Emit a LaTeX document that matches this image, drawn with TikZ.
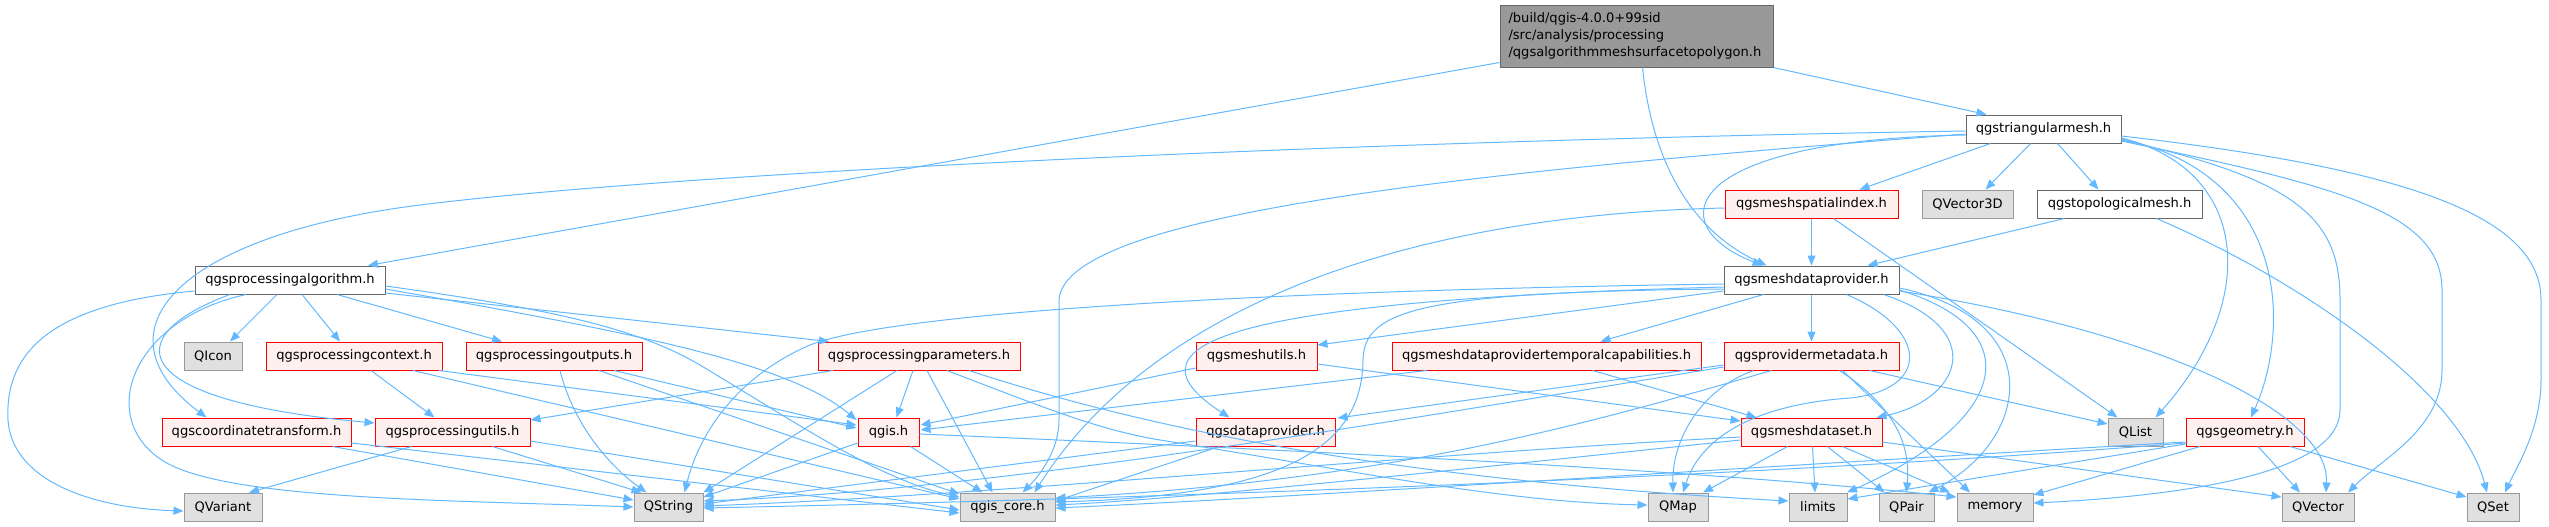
\documentclass[tikz,border=0pt]{standalone}
\usepackage{fontspec}
\setmainfont{DejaVu Sans}
\usetikzlibrary{arrows.meta}
\definecolor{edgec}{HTML}{63B8FF}
\definecolor{nodeg}{HTML}{666666}
\definecolor{mainf}{HTML}{999999}
\definecolor{grayd}{HTML}{999999}
\definecolor{grayf}{HTML}{E0E0E0}
\definecolor{redfill}{HTML}{FFF0F0}
\definecolor{redd}{HTML}{FF0000}
\begin{document}
\begin{tikzpicture}[x=0.75pt,y=-0.75pt,
  font=\fontsize{9.8}{12.75}\selectfont,
  box/.style={draw, line width=0.75pt, inner sep=0pt, minimum height=21pt, minimum width=#1*0.75pt},
  wbox/.style={box=#1, draw=nodeg, fill=white},
  rbox/.style={box=#1, draw=redd, fill=redfill},
  gbox/.style={box=#1, draw=grayd, fill=grayf},
  e/.style={draw=edgec, line width=0.75pt, -{Triangle[length=7.5pt,width=6pt]}}]
\useasboundingbox (0,0) rectangle (2549,526);
% nodes
\node[draw=nodeg, fill=mainf, line width=0.75pt, inner sep=0pt, minimum width=204.75pt, minimum height=46.5pt, text width=192pt, align=left] (M) at (1636.5,36) {/build/qgis-4.0.0+99sid\\/src/analysis/processing\\/qgsalgorithmmeshsurfacetopolygon.h};
\node[wbox=190] (PA) at (290,280) {qgsprocessingalgorithm.h};
\node[wbox=155] (TM) at (2043.5,129) {qgstriangularmesh.h};
\node[rbox=173] (MSI) at (1811.5,204) {qgsmeshspatialindex.h};
\node[gbox=91] (QV3) at (1967.5,204) {QVector3D};
\node[wbox=165] (TOP) at (2119.5,204) {qgstopologicalmesh.h};
\node[wbox=175] (MDP) at (1811.5,280) {qgsmeshdataprovider.h};
\node[gbox=58] (QI) at (213,356) {QIcon};
\node[rbox=176] (PC) at (354,356) {qgsprocessingcontext.h};
\node[rbox=176] (PO) at (554,356) {qgsprocessingoutputs.h};
\node[rbox=202] (PP) at (919,356) {qgsprocessingparameters.h};
\node[rbox=121] (MU) at (1256.5,356) {qgsmeshutils.h};
\node[rbox=309] (MTC) at (1546.5,356) {qgsmeshdataprovidertemporalcapabilities.h};
\node[rbox=175] (PM) at (1811.5,356) {qgsprovidermetadata.h};
\node[rbox=189] (CT) at (256.5,432) {qgscoordinatetransform.h};
\node[rbox=155] (PU) at (452.5,432) {qgsprocessingutils.h};
\node[rbox=61] (QG) at (888.5,432) {qgis.h};
\node[rbox=139] (DP) at (1265.5,432) {qgsdataprovider.h};
\node[rbox=141] (MD) at (1811.5,432) {qgsmeshdataset.h};
\node[gbox=55] (QL) at (2135.5,432) {QList};
\node[rbox=118] (GE) at (2245,432) {qgsgeometry.h};
\node[gbox=78] (QVa) at (223,507) {QVariant};
\node[gbox=69] (QS) at (668.5,507) {QString};
\node[gbox=95] (QC) at (1007.5,507) {qgis\_core.h};
\node[gbox=60] (QM) at (1678,507) {QMap};
\node[gbox=58] (LI) at (1818,507) {limits};
\node[gbox=55] (QP) at (1906.5,507) {QPair};
\node[gbox=76] (ME) at (1995,507) {memory};
\node[gbox=72] (QVe) at (2318,507) {QVector};
\node[gbox=52] (QSe) at (2493,507) {QSet};
% main
\draw[e] ([shift={(0,-5)}]M.south west) -- ([shift={(78,0)}]PA.north);
\draw[e] ([shift={(6,0)}]M.south) .. controls (1652,160) and (1690,230) .. ([shift={(-45,0)}]MDP.north);
\draw[e] (M.south east) -- ([shift={(-57,0)}]TM.north);
% triangular mesh
\draw[e] ([shift={(0,2)}]TM.west) .. controls (1400,140) and (700,170) .. (420,205) .. controls (180,235) and (90,330) .. ([shift={(-50,0)}]CT.north);
\draw[e] ([shift={(0,5)}]TM.west) .. controls (1500,170) and (1065,210) .. (1059,300) -- (1059,420) .. controls (1059,450) and (1040,475) .. ([shift={(15,0)}]QC.north);
\draw[e] ([shift={(0,6)}]TM.west) .. controls (1680,140) and (1660,225) .. ([shift={(-49,0)}]MDP.north);
\draw[e] ([shift={(-53,0)}]TM.south) -- ([shift={(48,0)}]MSI.north);
\draw[e] ([shift={(-13,0)}]TM.south) -- ([shift={(18,0)}]QV3.north);
\draw[e] ([shift={(14,0)}]TM.south) -- ([shift={(-21,0)}]TOP.north);
\draw[e] ([shift={(0,9)}]TM.east) .. controls (2250,170) and (2260,300) .. ([shift={(20,0)}]QL.north);
\draw[e] ([shift={(0,10)}]TM.east) .. controls (2290,175) and (2290,330) .. ([shift={(6,0)}]GE.north);
\draw[e] ([shift={(0,11)}]TM.east) .. controls (2300,180) and (2340,220) .. (2340,300) -- (2340,410) .. controls (2340,470) and (2200,495) .. ([shift={(0,-4)}]ME.east);
\draw[e] ([shift={(0,12)}]TM.east) .. controls (2330,185) and (2442,210) .. (2442,290) -- (2442,370) .. controls (2442,430) and (2380,460) .. ([shift={(30,0)}]QVe.north);
\draw[e] ([shift={(0,7)}]TM.east) .. controls (2420,170) and (2541,220) .. (2541,300) -- (2541,380) .. controls (2541,430) and (2515,470) .. ([shift={(12,0)}]QSe.north);
% mesh spatial index
\draw[e] (MSI) -- (MDP);
\draw[e] ([shift={(0,4)}]MSI.west) .. controls (1400,215) and (1150,310) .. ([shift={(27,0)}]QC.north);
\draw[e] ([shift={(22,0)}]MSI.south) -- ([shift={(-18,0)}]QL.north);
% topological mesh
\draw[e] ([shift={(-55,0)}]TOP.south) -- ([shift={(56,0)}]MDP.north);
\draw[e] ([shift={(37,0)}]TOP.south) .. controls (2300,280) and (2460,390) .. ([shift={(-6,0)}]QSe.north);
% mesh data provider
\draw[e] (MDP) -- (PM);
\draw[e] ([shift={(-48,0)}]MDP.south) -- ([shift={(54,0)}]MTC.north);
\draw[e] ([shift={(0,11)}]MDP.west) -- ([shift={(0,-11)}]MU.east);
\draw[e] ([shift={(0,7)}]MDP.west) .. controls (1250,300) and (1110,340) .. ([shift={(-36,0)}]DP.north);
\draw[e] ([shift={(0,9)}]MDP.west) .. controls (1420,292) and (1364,310) .. (1363,360) .. controls (1362,440) and (1300,495) .. ([shift={(0,-5)}]QC.east);
\draw[e] ([shift={(0,4)}]MDP.west) .. controls (1300,290) and (900,310) .. (810,345) .. controls (740,375) and (700,430) .. ([shift={(16,0)}]QS.north);
\draw[e] ([shift={(72,0)}]MDP.south) .. controls (1990,330) and (1960,400) .. ([shift={(65,0)}]MD.north);
\draw[e] ([shift={(0,10)}]MDP.east) .. controls (2030,330) and (2010,420) .. ([shift={(29,0)}]LI.north);
\draw[e] ([shift={(0,8)}]MDP.east) .. controls (2050,320) and (2030,440) .. ([shift={(22,0)}]QP.north);
\draw[e] ([shift={(35,0)}]MDP.south) .. controls (1930,330) and (1930,390) .. (1850,398) .. controls (1750,405) and (1700,440) .. ([shift={(5,0)}]QM.north);
\draw[e] ([shift={(0,11)}]MDP.east) .. controls (2150,330) and (2330,410) .. ([shift={(8,0)}]QVe.north);
% provider metadata
\draw[e] ([shift={(0,9)}]PM.west) -- ([shift={(2,-14)}]DP.east);
\draw[e] ([shift={(-58,0)}]PM.south) .. controls (1700,390) and (1672,440) .. ([shift={(-5,0)}]QM.north);
\draw[e] ([shift={(-40,0)}]PM.south) .. controls (1600,420) and (1400,480) .. ([shift={(0,-9)}]QC.east);
\draw[e] ([shift={(0,11)}]PM.west) .. controls (1400,420) and (1000,490) .. ([shift={(0,-6)}]QS.east);
\draw[e] ([shift={(28,0)}]PM.south) .. controls (1900,410) and (1910,450) .. (QP.north);
\draw[e] ([shift={(31,0)}]PM.south) -- ([shift={(-25,0)}]ME.north);
\draw[e] ([shift={(58,0)}]PM.south) -- ([shift={(0,-8)}]QL.west);
% temporal capabilities
\draw[e] ([shift={(-120,0)}]MTC.south) -- ([shift={(1,-2)}]QG.east);
\draw[e] ([shift={(46,0)}]MTC.south) -- ([shift={(-55,0)}]MD.north);
% mesh utils
\draw[e] ([shift={(0,12)}]MU.west) -- ([shift={(1,-7)}]QG.east);
\draw[e] ([shift={(0,8)}]MU.east) -- ([shift={(0,-11)}]MD.west);
% data provider
\draw[e] ([shift={(-46,0)}]DP.south) -- ([shift={(0,-6)}]QC.east);
\draw[e] ([shift={(0,9)}]DP.west) -- ([shift={(0,-3)}]QS.east);
% mesh dataset
\draw[e] ([shift={(0,5)}]MD.west) .. controls (1400,455) and (1000,495) .. ([shift={(0,-1)}]QS.east);
\draw[e] ([shift={(0,8)}]MD.west) .. controls (1500,465) and (1200,498) .. ([shift={(0,-2)}]QC.east);
\draw[e] ([shift={(-24,0)}]MD.south) -- ([shift={(25,0)}]QM.north);
\draw[e] ([shift={(1,0)}]MD.south) -- ([shift={(-3,0)}]LI.north);
\draw[e] ([shift={(16,0)}]MD.south) -- ([shift={(-22,0)}]QP.north);
\draw[e] ([shift={(31,0)}]MD.south) -- ([shift={(-45,0)}]ME.north);
\draw[e] ([shift={(0,10)}]MD.east) -- ([shift={(0,-10)}]QVe.west);
% geometry
\draw[e] ([shift={(13,0)}]GE.south) -- ([shift={(-18,0)}]QVe.north);
\draw[e] ([shift={(45,0)}]GE.south) -- ([shift={(0,-10)}]QSe.west);
\draw[e] ([shift={(-45,0)}]GE.south) -- ([shift={(0,-12)}]ME.east);
\draw[e] ([shift={(0,10)}]GE.west) .. controls (1700,470) and (1300,497) .. ([shift={(0,1)}]QC.east);
\draw[e] ([shift={(0,11)}]GE.west) .. controls (1700,482) and (1000,502) .. ([shift={(0,1)}]QS.east);
\draw[e] ([shift={(0,12)}]GE.west) -- ([shift={(0,-8)}]LI.east);
% qgis.h
\draw[e] ([shift={(0,11)}]QG.west) -- ([shift={(0,-10)}]QS.east);
\draw[e] ([shift={(22,0)}]QG.south) -- ([shift={(-25,0)}]QC.north);
\draw[e] ([shift={(0,2)}]QG.east) .. controls (1300,450) and (1700,470) .. ([shift={(0,-10)}]ME.west);
% processing parameters
\draw[e] ([shift={(-86,0)}]PP.south) -- ([shift={(0,-12)}]PU.east);
\draw[e] ([shift={(-22,0)}]PP.south) -- (QS.north east);
\draw[e] ([shift={(-6,0)}]PP.south) -- ([shift={(8,0)}]QG.north);
\draw[e] ([shift={(8,0)}]PP.south) -- ([shift={(-15,0)}]QC.north);
\draw[e] ([shift={(28,0)}]PP.south) .. controls (1050,410) and (1100,430) .. (1160,440) .. controls (1350,470) and (1500,502) .. ([shift={(0,-2)}]QM.west);
\draw[e] ([shift={(50,0)}]PP.south) .. controls (1150,430) and (1400,480) .. ([shift={(0,-6)}]LI.west);
% processing algorithm
\draw[e] ([shift={(-13,0)}]PA.south) -- ([shift={(17,0)}]QI.north);
\draw[e] ([shift={(12,0)}]PA.south) -- ([shift={(-14,0)}]PC.north);
\draw[e] ([shift={(47,0)}]PA.south) -- ([shift={(-52,0)}]PO.north);
\draw[e] ([shift={(0,13)}]PA.east) -- ([shift={(-90,0)}]PP.north);
\draw[e] ([shift={(0,9)}]PA.east) .. controls (650,335) and (790,365) .. ([shift={(-1,-12)}]QG.west);
\draw[e] ([shift={(0,6)}]PA.east) .. controls (560,310) and (640,330) .. (700,365) .. controls (800,425) and (880,480) .. ([shift={(0,-10)}]QC.west);
\draw[e] ([shift={(-60,0)}]PA.south) .. controls (120,335) and (120,400) .. ([shift={(0,-9)}]PU.west);
\draw[e] ([shift={(-44,0)}]PA.south) .. controls (130,320) and (95,420) .. (165,462) .. controls (230,500) and (450,500) .. (QS.west);
\draw[e] ([shift={(0,11)}]PA.west) .. controls (40,305) and (5,360) .. (8,420) .. controls (12,480) and (90,508) .. ([shift={(0,4)}]QVa.west);
% processing context
\draw[e] ([shift={(17,0)}]PC.south) -- ([shift={(-18,0)}]PU.north);
\draw[e] ([shift={(85,0)}]PC.south) -- ([shift={(-1,-7)}]QG.west);
\draw[e] ([shift={(59,0)}]PC.south) -- ([shift={(0,-8)}]QC.west);
% processing outputs
\draw[e] ([shift={(6,0)}]PO.south) .. controls (575,430) and (615,470) .. ([shift={(-22,0)}]QS.north);
\draw[e] ([shift={(60,0)}]PO.south) -- ([shift={(-1,-4)}]QG.west);
\draw[e] ([shift={(45,0)}]PO.south) -- ([shift={(0,-13)}]QC.west);
% processing utils
\draw[e] ([shift={(-41,0)}]PU.south) -- ([shift={(26,0)}]QVa.north);
\draw[e] ([shift={(40,0)}]PU.south) -- ([shift={(-27,0)}]QS.north);
\draw[e] ([shift={(0,9)}]PU.east) -- ([shift={(0,3)}]QC.west);
% coordinate transform
\draw[e] ([shift={(76,0)}]CT.south) -- ([shift={(0,-7)}]QS.west);
\draw[e] ([shift={(0,11)}]CT.east) -- ([shift={(0,6)}]QC.west);
\end{tikzpicture}
\end{document}
